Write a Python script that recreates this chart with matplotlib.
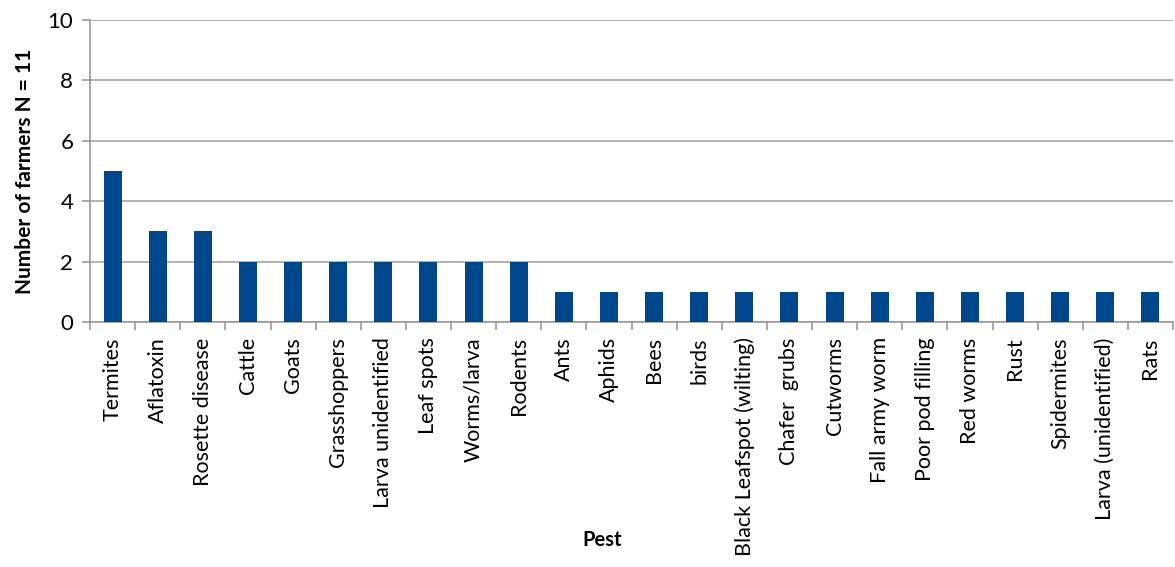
import numpy as np
import matplotlib
matplotlib.use("Agg")
import matplotlib.pyplot as plt

plt.rcParams['font.family'] = ['Lato', 'DejaVu Sans']

pests = ["Termites", "Aflatoxin", "Rosette disease", "Cattle", "Goats",
         "Grasshoppers", "Larva unidentified", "Leaf spots", "Worms/larva",
         "Rodents", "Ants", "Aphids", "Bees", "birds",
         "Black Leafspot (wilting)", "Chafer  grubs", "Cutworms",
         "Fall army worm", "Poor pod filling", "Red worms", "Rust",
         "Spidermites", "Larva (unidentified)", "Rats"]
farmers = [5, 3, 3, 2, 2, 2, 2, 2, 2, 2, 1, 1, 1, 1, 1, 1, 1, 1, 1, 1, 1, 1, 1, 1]

W, H = 1175, 567
fig = plt.figure(figsize=(W / 100, H / 100), dpi=100)
ax = fig.add_axes([90 / W, 1 - 322 / H, (1173 - 90) / W, (322 - 20) / H])

x = np.arange(len(pests))
ax.bar(x, farmers, width=0.4, color="#00468B", zorder=3)

ax.set_xlim(-0.5, len(pests) - 0.5)
ax.set_ylim(0, 10)
ax.set_yticks(range(0, 11, 2))
ax.yaxis.grid(True, color="#A6A6A6", linewidth=1.2, zorder=0)

ax.set_xticks(x)
ax.set_xticklabels(pests, rotation=90, fontsize=15.5)
ax.set_xticks(np.arange(len(pests) + 1) - 0.5, minor=True)
ax.tick_params(axis="x", which="major", length=0, pad=11)
ax.tick_params(axis="x", which="minor", length=6, width=1.2, color="#999999")
ax.tick_params(axis="y", length=6, width=1.2, color="#999999", labelsize=16, pad=6)

for s in ["top", "right"]:
    ax.spines[s].set_visible(False)
for s in ["left", "bottom"]:
    ax.spines[s].set_color("#999999")
    ax.spines[s].set_linewidth(1.2)

ax.set_ylabel("Number of farmers N = 11", fontsize=15, fontweight="bold")
ax.yaxis.set_label_coords(-0.051, 0.5)
ax.set_xlabel("Pest", fontsize=14.5, fontweight="bold")
ax.xaxis.set_label_coords(0.473, -0.69)

fig.savefig("out.png", dpi=100)
